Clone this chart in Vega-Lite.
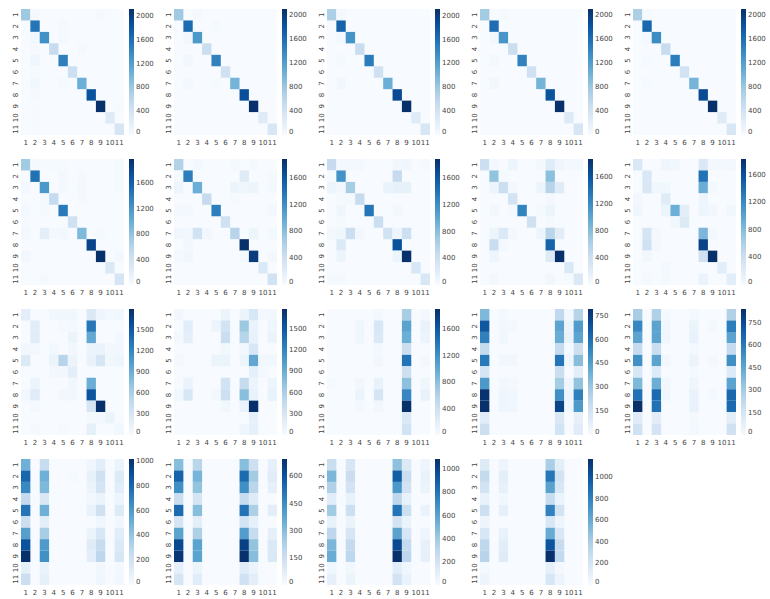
{
"$schema": "https://vega.github.io/schema/vega-lite/v6.json",
"padding": {"left": 11, "top": 9, "right": 0, "bottom": 0},
"background": "white",
"columns": 5,
"spacing": {"row": 24, "column": 50},
"bounds": "flush",
"resolve": {"scale": {"color": "independent"}},
"data": {"values": [
{"p":1,"r":1,"c":1,"v":800},{"p":1,"r":1,"c":2,"v":25},{"p":1,"r":1,"c":9,"v":30},
{"p":1,"r":2,"c":2,"v":1560},{"p":1,"r":2,"c":5,"v":35},
{"p":1,"r":3,"c":2,"v":70},{"p":1,"r":3,"c":3,"v":1330},{"p":1,"r":3,"c":5,"v":30},
{"p":1,"r":4,"c":2,"v":25},{"p":1,"r":4,"c":4,"v":520},{"p":1,"r":4,"c":7,"v":25},
{"p":1,"r":5,"c":2,"v":80},{"p":1,"r":5,"c":5,"v":1480},
{"p":1,"r":6,"c":2,"v":20},{"p":1,"r":6,"c":6,"v":450},
{"p":1,"r":7,"c":2,"v":70},{"p":1,"r":7,"c":5,"v":35},{"p":1,"r":7,"c":7,"v":1060},
{"p":1,"r":8,"c":2,"v":25},{"p":1,"r":8,"c":8,"v":1830},
{"p":1,"r":9,"c":2,"v":20},{"p":1,"r":9,"c":9,"v":2120},{"p":1,"r":9,"c":11,"v":15},
{"p":1,"r":10,"c":2,"v":20},{"p":1,"r":10,"c":10,"v":260},
{"p":1,"r":11,"c":2,"v":20},{"p":1,"r":11,"c":11,"v":360},

{"p":2,"r":1,"c":1,"v":780},{"p":2,"r":1,"c":3,"v":25},
{"p":2,"r":2,"c":2,"v":1620},{"p":2,"r":2,"c":5,"v":30},
{"p":2,"r":3,"c":2,"v":60},{"p":2,"r":3,"c":3,"v":1250},
{"p":2,"r":4,"c":4,"v":480},
{"p":2,"r":5,"c":2,"v":60},{"p":2,"r":5,"c":5,"v":1450},
{"p":2,"r":6,"c":6,"v":430},
{"p":2,"r":7,"c":2,"v":50},{"p":2,"r":7,"c":5,"v":30},{"p":2,"r":7,"c":7,"v":1000},
{"p":2,"r":8,"c":8,"v":1850},
{"p":2,"r":9,"c":9,"v":2100},
{"p":2,"r":10,"c":10,"v":250},
{"p":2,"r":11,"c":11,"v":330},

{"p":3,"r":1,"c":1,"v":700},{"p":3,"r":1,"c":2,"v":30},
{"p":3,"r":2,"c":2,"v":1700},
{"p":3,"r":3,"c":2,"v":50},{"p":3,"r":3,"c":3,"v":1300},
{"p":3,"r":4,"c":4,"v":500},
{"p":3,"r":5,"c":2,"v":40},{"p":3,"r":5,"c":5,"v":1500},
{"p":3,"r":6,"c":6,"v":420},
{"p":3,"r":7,"c":2,"v":60},{"p":3,"r":7,"c":7,"v":1050},
{"p":3,"r":8,"c":8,"v":1900},
{"p":3,"r":9,"c":9,"v":2112},
{"p":3,"r":10,"c":10,"v":250},
{"p":3,"r":11,"c":11,"v":350},

{"p":4,"r":1,"c":1,"v":760},{"p":4,"r":1,"c":3,"v":30},
{"p":4,"r":2,"c":2,"v":1600},
{"p":4,"r":3,"c":2,"v":60},{"p":4,"r":3,"c":3,"v":1280},
{"p":4,"r":4,"c":4,"v":480},
{"p":4,"r":5,"c":2,"v":50},{"p":4,"r":5,"c":5,"v":1450},
{"p":4,"r":6,"c":6,"v":430},
{"p":4,"r":7,"c":2,"v":60},{"p":4,"r":7,"c":7,"v":1000},
{"p":4,"r":8,"c":8,"v":1820},
{"p":4,"r":9,"c":9,"v":2104},
{"p":4,"r":10,"c":10,"v":260},
{"p":4,"r":11,"c":11,"v":350},

{"p":5,"r":1,"c":1,"v":700},{"p":5,"r":1,"c":2,"v":20},
{"p":5,"r":2,"c":2,"v":1650},
{"p":5,"r":3,"c":2,"v":40},{"p":5,"r":3,"c":3,"v":1350},
{"p":5,"r":4,"c":4,"v":500},
{"p":5,"r":5,"c":2,"v":40},{"p":5,"r":5,"c":5,"v":1480},
{"p":5,"r":6,"c":6,"v":400},
{"p":5,"r":7,"c":2,"v":40},{"p":5,"r":7,"c":7,"v":1000},
{"p":5,"r":8,"c":8,"v":1880},
{"p":5,"r":9,"c":9,"v":2096},
{"p":5,"r":10,"c":10,"v":250},
{"p":5,"r":11,"c":11,"v":330},

{"p":6,"r":1,"c":1,"v":730},{"p":6,"r":1,"c":2,"v":25},{"p":6,"r":1,"c":3,"v":20},{"p":6,"r":1,"c":4,"v":20},{"p":6,"r":1,"c":5,"v":20},{"p":6,"r":1,"c":11,"v":30},
{"p":6,"r":2,"c":2,"v":1490},{"p":6,"r":2,"c":5,"v":40},{"p":6,"r":2,"c":7,"v":25},{"p":6,"r":2,"c":11,"v":30},
{"p":6,"r":3,"c":1,"v":40},{"p":6,"r":3,"c":3,"v":1190},{"p":6,"r":3,"c":5,"v":40},{"p":6,"r":3,"c":7,"v":40},{"p":6,"r":3,"c":11,"v":30},
{"p":6,"r":4,"c":3,"v":30},{"p":6,"r":4,"c":4,"v":500},{"p":6,"r":4,"c":7,"v":30},
{"p":6,"r":5,"c":1,"v":40},{"p":6,"r":5,"c":3,"v":30},{"p":6,"r":5,"c":5,"v":1420},
{"p":6,"r":6,"c":1,"v":20},{"p":6,"r":6,"c":6,"v":400},
{"p":6,"r":7,"c":1,"v":50},{"p":6,"r":7,"c":3,"v":200},{"p":6,"r":7,"c":4,"v":40},{"p":6,"r":7,"c":5,"v":60},{"p":6,"r":7,"c":7,"v":890},{"p":6,"r":7,"c":9,"v":30},
{"p":6,"r":8,"c":8,"v":1820},
{"p":6,"r":9,"c":1,"v":60},{"p":6,"r":9,"c":9,"v":1984},{"p":6,"r":9,"c":11,"v":40},
{"p":6,"r":10,"c":10,"v":280},
{"p":6,"r":11,"c":3,"v":30},{"p":6,"r":11,"c":11,"v":340},

{"p":7,"r":1,"c":1,"v":590},{"p":7,"r":1,"c":3,"v":40},{"p":7,"r":1,"c":7,"v":25},{"p":7,"r":1,"c":9,"v":30},
{"p":7,"r":2,"c":1,"v":30},{"p":7,"r":2,"c":2,"v":1320},{"p":7,"r":2,"c":8,"v":230},{"p":7,"r":2,"c":11,"v":30},
{"p":7,"r":3,"c":1,"v":100},{"p":7,"r":3,"c":3,"v":940},{"p":7,"r":3,"c":7,"v":100},{"p":7,"r":3,"c":8,"v":80},{"p":7,"r":3,"c":9,"v":90},{"p":7,"r":3,"c":11,"v":50},
{"p":7,"r":4,"c":4,"v":470},{"p":7,"r":4,"c":7,"v":30},
{"p":7,"r":5,"c":1,"v":50},{"p":7,"r":5,"c":2,"v":40},{"p":7,"r":5,"c":5,"v":1320},{"p":7,"r":5,"c":11,"v":40},
{"p":7,"r":6,"c":6,"v":380},
{"p":7,"r":7,"c":1,"v":70},{"p":7,"r":7,"c":2,"v":60},{"p":7,"r":7,"c":3,"v":360},{"p":7,"r":7,"c":4,"v":60},{"p":7,"r":7,"c":7,"v":560},{"p":7,"r":7,"c":9,"v":100},{"p":7,"r":7,"c":11,"v":40},
{"p":7,"r":8,"c":2,"v":60},{"p":7,"r":8,"c":8,"v":1880},
{"p":7,"r":9,"c":1,"v":50},{"p":7,"r":9,"c":2,"v":70},{"p":7,"r":9,"c":8,"v":40},{"p":7,"r":9,"c":9,"v":1790},{"p":7,"r":9,"c":11,"v":40},
{"p":7,"r":10,"c":10,"v":260},
{"p":7,"r":11,"c":11,"v":360},

{"p":8,"r":1,"c":1,"v":470},{"p":8,"r":1,"c":2,"v":50},{"p":8,"r":1,"c":3,"v":40},{"p":8,"r":1,"c":4,"v":40},{"p":8,"r":1,"c":8,"v":60},{"p":8,"r":1,"c":9,"v":70},{"p":8,"r":1,"c":11,"v":30},
{"p":8,"r":2,"c":1,"v":20},{"p":8,"r":2,"c":2,"v":1170},{"p":8,"r":2,"c":8,"v":470},
{"p":8,"r":3,"c":1,"v":100},{"p":8,"r":3,"c":2,"v":60},{"p":8,"r":3,"c":3,"v":660},{"p":8,"r":3,"c":7,"v":120},{"p":8,"r":3,"c":8,"v":150},{"p":8,"r":3,"c":9,"v":150},
{"p":8,"r":4,"c":2,"v":30},{"p":8,"r":4,"c":3,"v":30},{"p":8,"r":4,"c":4,"v":450},
{"p":8,"r":5,"c":2,"v":80},{"p":8,"r":5,"c":5,"v":1380},{"p":8,"r":5,"c":8,"v":50},
{"p":8,"r":6,"c":2,"v":30},{"p":8,"r":6,"c":6,"v":410},
{"p":8,"r":7,"c":1,"v":40},{"p":8,"r":7,"c":2,"v":80},{"p":8,"r":7,"c":3,"v":420},{"p":8,"r":7,"c":4,"v":60},{"p":8,"r":7,"c":7,"v":360},{"p":8,"r":7,"c":8,"v":90},{"p":8,"r":7,"c":9,"v":400},
{"p":8,"r":8,"c":2,"v":260},{"p":8,"r":8,"c":8,"v":1640},
{"p":8,"r":9,"c":2,"v":100},{"p":8,"r":9,"c":8,"v":100},{"p":8,"r":9,"c":9,"v":1888},
{"p":8,"r":10,"c":10,"v":300},
{"p":8,"r":11,"c":1,"v":30},{"p":8,"r":11,"c":2,"v":30},{"p":8,"r":11,"c":11,"v":300},

{"p":9,"r":1,"c":1,"v":410},{"p":9,"r":1,"c":2,"v":40},{"p":9,"r":1,"c":4,"v":90},{"p":9,"r":1,"c":7,"v":40},{"p":9,"r":1,"c":8,"v":220},{"p":9,"r":1,"c":9,"v":80},{"p":9,"r":1,"c":10,"v":40},{"p":9,"r":1,"c":11,"v":40},
{"p":9,"r":2,"c":2,"v":760},{"p":9,"r":2,"c":3,"v":30},{"p":9,"r":2,"c":8,"v":780},
{"p":9,"r":3,"c":2,"v":100},{"p":9,"r":3,"c":3,"v":410},{"p":9,"r":3,"c":4,"v":40},{"p":9,"r":3,"c":7,"v":90},{"p":9,"r":3,"c":8,"v":560},{"p":9,"r":3,"c":9,"v":220},
{"p":9,"r":4,"c":4,"v":350},{"p":9,"r":4,"c":8,"v":40},
{"p":9,"r":5,"c":2,"v":60},{"p":9,"r":5,"c":4,"v":50},{"p":9,"r":5,"c":5,"v":1270},{"p":9,"r":5,"c":7,"v":30},{"p":9,"r":5,"c":8,"v":100},
{"p":9,"r":6,"c":6,"v":370},{"p":9,"r":6,"c":8,"v":30},
{"p":9,"r":7,"c":2,"v":100},{"p":9,"r":7,"c":3,"v":260},{"p":9,"r":7,"c":4,"v":40},{"p":9,"r":7,"c":7,"v":90},{"p":9,"r":7,"c":8,"v":550},{"p":9,"r":7,"c":9,"v":200},
{"p":9,"r":8,"c":2,"v":440},{"p":9,"r":8,"c":3,"v":40},{"p":9,"r":8,"c":8,"v":1490},
{"p":9,"r":9,"c":2,"v":80},{"p":9,"r":9,"c":8,"v":230},{"p":9,"r":9,"c":9,"v":1864},
{"p":9,"r":10,"c":10,"v":260},
{"p":9,"r":11,"c":2,"v":40},{"p":9,"r":11,"c":8,"v":60},{"p":9,"r":11,"c":10,"v":20},{"p":9,"r":11,"c":11,"v":260},

{"p":10,"r":1,"c":1,"v":270},{"p":10,"r":1,"c":4,"v":80},{"p":10,"r":1,"c":5,"v":60},{"p":10,"r":1,"c":8,"v":270},{"p":10,"r":1,"c":9,"v":40},{"p":10,"r":1,"c":10,"v":40},{"p":10,"r":1,"c":11,"v":40},
{"p":10,"r":2,"c":2,"v":270},{"p":10,"r":2,"c":8,"v":1370},
{"p":10,"r":3,"c":2,"v":280},{"p":10,"r":3,"c":3,"v":60},{"p":10,"r":3,"c":4,"v":60},{"p":10,"r":3,"c":8,"v":920},{"p":10,"r":3,"c":9,"v":40},
{"p":10,"r":4,"c":1,"v":40},{"p":10,"r":4,"c":4,"v":220},{"p":10,"r":4,"c":8,"v":80},
{"p":10,"r":5,"c":1,"v":70},{"p":10,"r":5,"c":4,"v":100},{"p":10,"r":5,"c":5,"v":910},{"p":10,"r":5,"c":6,"v":180},{"p":10,"r":5,"c":8,"v":100},{"p":10,"r":5,"c":9,"v":50},{"p":10,"r":5,"c":11,"v":60},
{"p":10,"r":6,"c":5,"v":60},{"p":10,"r":6,"c":6,"v":250},
{"p":10,"r":7,"c":2,"v":310},{"p":10,"r":7,"c":3,"v":40},{"p":10,"r":7,"c":8,"v":840},{"p":10,"r":7,"c":9,"v":40},
{"p":10,"r":8,"c":2,"v":370},{"p":10,"r":8,"c":3,"v":40},{"p":10,"r":8,"c":8,"v":1700},
{"p":10,"r":9,"c":2,"v":50},{"p":10,"r":9,"c":8,"v":360},{"p":10,"r":9,"c":9,"v":1832},
{"p":10,"r":10,"c":4,"v":40},{"p":10,"r":10,"c":10,"v":200},
{"p":10,"r":11,"c":2,"v":30},{"p":10,"r":11,"c":4,"v":30},{"p":10,"r":11,"c":8,"v":120},{"p":10,"r":11,"c":11,"v":200},

{"p":11,"r":1,"c":1,"v":180},{"p":11,"r":1,"c":4,"v":60},{"p":11,"r":1,"c":5,"v":60},{"p":11,"r":1,"c":6,"v":60},{"p":11,"r":1,"c":8,"v":250},{"p":11,"r":1,"c":9,"v":80},{"p":11,"r":1,"c":10,"v":40},{"p":11,"r":1,"c":11,"v":60},
{"p":11,"r":2,"c":2,"v":190},{"p":11,"r":2,"c":5,"v":30},{"p":11,"r":2,"c":6,"v":40},{"p":11,"r":2,"c":8,"v":1310},
{"p":11,"r":3,"c":2,"v":210},{"p":11,"r":3,"c":6,"v":100},{"p":11,"r":3,"c":8,"v":950},{"p":11,"r":3,"c":11,"v":40},
{"p":11,"r":4,"c":1,"v":50},{"p":11,"r":4,"c":2,"v":40},{"p":11,"r":4,"c":4,"v":60},{"p":11,"r":4,"c":6,"v":50},{"p":11,"r":4,"c":8,"v":100},{"p":11,"r":4,"c":9,"v":120},{"p":11,"r":4,"c":10,"v":50},{"p":11,"r":4,"c":11,"v":50},
{"p":11,"r":5,"c":1,"v":240},{"p":11,"r":5,"c":4,"v":110},{"p":11,"r":5,"c":5,"v":540},{"p":11,"r":5,"c":6,"v":100},{"p":11,"r":5,"c":8,"v":130},{"p":11,"r":5,"c":9,"v":300},{"p":11,"r":5,"c":10,"v":60},{"p":11,"r":5,"c":11,"v":80},
{"p":11,"r":6,"c":4,"v":50},{"p":11,"r":6,"c":5,"v":50},{"p":11,"r":6,"c":6,"v":180},
{"p":11,"r":7,"c":2,"v":110},{"p":11,"r":7,"c":6,"v":60},{"p":11,"r":7,"c":8,"v":900},
{"p":11,"r":8,"c":1,"v":50},{"p":11,"r":8,"c":2,"v":220},{"p":11,"r":8,"c":5,"v":50},{"p":11,"r":8,"c":6,"v":60},{"p":11,"r":8,"c":8,"v":1540},
{"p":11,"r":9,"c":2,"v":40},{"p":11,"r":9,"c":8,"v":310},{"p":11,"r":9,"c":9,"v":1800},
{"p":11,"r":10,"c":8,"v":30},{"p":11,"r":10,"c":9,"v":40},{"p":11,"r":10,"c":10,"v":110},
{"p":11,"r":11,"c":2,"v":30},{"p":11,"r":11,"c":5,"v":30},{"p":11,"r":11,"c":8,"v":160},{"p":11,"r":11,"c":11,"v":60},

{"p":12,"r":1,"c":1,"v":50},{"p":12,"r":1,"c":6,"v":100},{"p":12,"r":1,"c":8,"v":100},{"p":12,"r":1,"c":9,"v":280},{"p":12,"r":1,"c":10,"v":40},{"p":12,"r":1,"c":11,"v":50},
{"p":12,"r":2,"c":2,"v":200},{"p":12,"r":2,"c":5,"v":90},{"p":12,"r":2,"c":6,"v":330},{"p":12,"r":2,"c":8,"v":680},{"p":12,"r":2,"c":9,"v":120},{"p":12,"r":2,"c":11,"v":80},
{"p":12,"r":3,"c":1,"v":40},{"p":12,"r":3,"c":2,"v":170},{"p":12,"r":3,"c":6,"v":400},{"p":12,"r":3,"c":8,"v":540},{"p":12,"r":3,"c":9,"v":130},{"p":12,"r":3,"c":11,"v":110},
{"p":12,"r":4,"c":6,"v":60},{"p":12,"r":4,"c":8,"v":60},{"p":12,"r":4,"c":9,"v":280},
{"p":12,"r":5,"c":1,"v":40},{"p":12,"r":5,"c":5,"v":110},{"p":12,"r":5,"c":6,"v":110},{"p":12,"r":5,"c":8,"v":90},{"p":12,"r":5,"c":9,"v":950},{"p":12,"r":5,"c":10,"v":50},{"p":12,"r":5,"c":11,"v":60},
{"p":12,"r":6,"c":9,"v":160},{"p":12,"r":6,"c":10,"v":40},
{"p":12,"r":7,"c":2,"v":120},{"p":12,"r":7,"c":6,"v":330},{"p":12,"r":7,"c":8,"v":440},{"p":12,"r":7,"c":9,"v":90},{"p":12,"r":7,"c":11,"v":90},
{"p":12,"r":8,"c":1,"v":60},{"p":12,"r":8,"c":2,"v":280},{"p":12,"r":8,"c":5,"v":60},{"p":12,"r":8,"c":6,"v":380},{"p":12,"r":8,"c":8,"v":760},{"p":12,"r":8,"c":9,"v":130},{"p":12,"r":8,"c":11,"v":130},
{"p":12,"r":9,"c":6,"v":60},{"p":12,"r":9,"c":8,"v":120},{"p":12,"r":9,"c":9,"v":1784},
{"p":12,"r":10,"c":9,"v":150},
{"p":12,"r":11,"c":8,"v":80},{"p":12,"r":11,"c":9,"v":150},

{"p":13,"r":1,"c":6,"v":50},{"p":13,"r":1,"c":9,"v":660},{"p":13,"r":1,"c":11,"v":40},
{"p":13,"r":2,"c":4,"v":80},{"p":13,"r":2,"c":6,"v":300},{"p":13,"r":2,"c":9,"v":1050},{"p":13,"r":2,"c":11,"v":130},
{"p":13,"r":3,"c":4,"v":80},{"p":13,"r":3,"c":6,"v":270},{"p":13,"r":3,"c":9,"v":950},{"p":13,"r":3,"c":11,"v":110},
{"p":13,"r":4,"c":6,"v":50},{"p":13,"r":4,"c":9,"v":420},
{"p":13,"r":5,"c":6,"v":60},{"p":13,"r":5,"c":9,"v":1410},{"p":13,"r":5,"c":11,"v":40},
{"p":13,"r":6,"c":9,"v":410},
{"p":13,"r":7,"c":1,"v":30},{"p":13,"r":7,"c":4,"v":60},{"p":13,"r":7,"c":6,"v":130},{"p":13,"r":7,"c":9,"v":790},{"p":13,"r":7,"c":11,"v":80},
{"p":13,"r":8,"c":4,"v":110},{"p":13,"r":8,"c":6,"v":330},{"p":13,"r":8,"c":9,"v":1270},{"p":13,"r":8,"c":11,"v":130},
{"p":13,"r":9,"c":4,"v":40},{"p":13,"r":9,"c":6,"v":60},{"p":13,"r":9,"c":9,"v":1904},
{"p":13,"r":10,"c":9,"v":280},
{"p":13,"r":11,"c":9,"v":370},

{"p":14,"r":1,"c":1,"v":360},{"p":14,"r":1,"c":3,"v":20},{"p":14,"r":1,"c":9,"v":210},{"p":14,"r":1,"c":10,"v":20},{"p":14,"r":1,"c":11,"v":240},
{"p":14,"r":2,"c":1,"v":670},{"p":14,"r":2,"c":3,"v":25},{"p":14,"r":2,"c":4,"v":20},{"p":14,"r":2,"c":9,"v":430},{"p":14,"r":2,"c":10,"v":40},{"p":14,"r":2,"c":11,"v":460},
{"p":14,"r":3,"c":1,"v":550},{"p":14,"r":3,"c":3,"v":30},{"p":14,"r":3,"c":9,"v":400},{"p":14,"r":3,"c":10,"v":50},{"p":14,"r":3,"c":11,"v":430},
{"p":14,"r":4,"c":1,"v":200},{"p":14,"r":4,"c":9,"v":200},{"p":14,"r":4,"c":10,"v":15},{"p":14,"r":4,"c":11,"v":170},
{"p":14,"r":5,"c":1,"v":570},{"p":14,"r":5,"c":3,"v":25},{"p":14,"r":5,"c":4,"v":25},{"p":14,"r":5,"c":9,"v":580},{"p":14,"r":5,"c":10,"v":30},{"p":14,"r":5,"c":11,"v":340},
{"p":14,"r":6,"c":1,"v":135},{"p":14,"r":6,"c":9,"v":180},{"p":14,"r":6,"c":11,"v":80},
{"p":14,"r":7,"c":1,"v":470},{"p":14,"r":7,"c":3,"v":25},{"p":14,"r":7,"c":4,"v":20},{"p":14,"r":7,"c":9,"v":280},{"p":14,"r":7,"c":10,"v":30},{"p":14,"r":7,"c":11,"v":320},
{"p":14,"r":8,"c":1,"v":785},{"p":14,"r":8,"c":3,"v":35},{"p":14,"r":8,"c":4,"v":30},{"p":14,"r":8,"c":9,"v":500},{"p":14,"r":8,"c":10,"v":40},{"p":14,"r":8,"c":11,"v":550},
{"p":14,"r":9,"c":1,"v":792},{"p":14,"r":9,"c":3,"v":35},{"p":14,"r":9,"c":4,"v":30},{"p":14,"r":9,"c":9,"v":730},{"p":14,"r":9,"c":10,"v":30},{"p":14,"r":9,"c":11,"v":470},
{"p":14,"r":10,"c":1,"v":90},{"p":14,"r":10,"c":9,"v":120},{"p":14,"r":10,"c":11,"v":70},
{"p":14,"r":11,"c":1,"v":170},{"p":14,"r":11,"c":9,"v":150},{"p":14,"r":11,"c":11,"v":90},

{"p":15,"r":1,"c":1,"v":290},{"p":15,"r":1,"c":3,"v":270},{"p":15,"r":1,"c":4,"v":15},{"p":15,"r":1,"c":7,"v":20},{"p":15,"r":1,"c":11,"v":270},
{"p":15,"r":2,"c":1,"v":560},{"p":15,"r":2,"c":3,"v":460},{"p":15,"r":2,"c":4,"v":30},{"p":15,"r":2,"c":7,"v":50},{"p":15,"r":2,"c":9,"v":20},{"p":15,"r":2,"c":11,"v":590},
{"p":15,"r":3,"c":1,"v":460},{"p":15,"r":3,"c":3,"v":460},{"p":15,"r":3,"c":4,"v":30},{"p":15,"r":3,"c":7,"v":60},{"p":15,"r":3,"c":11,"v":460},
{"p":15,"r":4,"c":1,"v":210},{"p":15,"r":4,"c":3,"v":190},{"p":15,"r":4,"c":7,"v":20},{"p":15,"r":4,"c":11,"v":210},
{"p":15,"r":5,"c":1,"v":530},{"p":15,"r":5,"c":3,"v":460},{"p":15,"r":5,"c":4,"v":25},{"p":15,"r":5,"c":7,"v":50},{"p":15,"r":5,"c":9,"v":20},{"p":15,"r":5,"c":11,"v":530},
{"p":15,"r":6,"c":1,"v":130},{"p":15,"r":6,"c":3,"v":110},{"p":15,"r":6,"c":7,"v":15},{"p":15,"r":6,"c":11,"v":110},
{"p":15,"r":7,"c":1,"v":380},{"p":15,"r":7,"c":3,"v":420},{"p":15,"r":7,"c":4,"v":25},{"p":15,"r":7,"c":7,"v":40},{"p":15,"r":7,"c":11,"v":460},
{"p":15,"r":8,"c":1,"v":630},{"p":15,"r":8,"c":3,"v":650},{"p":15,"r":8,"c":4,"v":30},{"p":15,"r":8,"c":7,"v":60},{"p":15,"r":8,"c":9,"v":20},{"p":15,"r":8,"c":11,"v":660},
{"p":15,"r":9,"c":1,"v":840},{"p":15,"r":9,"c":3,"v":630},{"p":15,"r":9,"c":7,"v":60},{"p":15,"r":9,"c":11,"v":650},
{"p":15,"r":10,"c":1,"v":100},{"p":15,"r":10,"c":3,"v":90},{"p":15,"r":10,"c":7,"v":15},{"p":15,"r":10,"c":11,"v":90},
{"p":15,"r":11,"c":1,"v":165},{"p":15,"r":11,"c":3,"v":150},{"p":15,"r":11,"c":7,"v":20},{"p":15,"r":11,"c":11,"v":165},

{"p":16,"r":1,"c":1,"v":500},{"p":16,"r":1,"c":3,"v":250},{"p":16,"r":1,"c":8,"v":40},{"p":16,"r":1,"c":9,"v":110},{"p":16,"r":1,"c":11,"v":60},
{"p":16,"r":2,"c":1,"v":800},{"p":16,"r":2,"c":3,"v":500},{"p":16,"r":2,"c":6,"v":15},{"p":16,"r":2,"c":8,"v":80},{"p":16,"r":2,"c":9,"v":200},{"p":16,"r":2,"c":11,"v":130},
{"p":16,"r":3,"c":1,"v":670},{"p":16,"r":3,"c":3,"v":460},{"p":16,"r":3,"c":8,"v":60},{"p":16,"r":3,"c":9,"v":180},{"p":16,"r":3,"c":11,"v":110},
{"p":16,"r":4,"c":1,"v":260},{"p":16,"r":4,"c":3,"v":150},{"p":16,"r":4,"c":8,"v":30},{"p":16,"r":4,"c":9,"v":60},{"p":16,"r":4,"c":11,"v":50},
{"p":16,"r":5,"c":1,"v":750},{"p":16,"r":5,"c":3,"v":500},{"p":16,"r":5,"c":8,"v":70},{"p":16,"r":5,"c":9,"v":200},{"p":16,"r":5,"c":11,"v":130},
{"p":16,"r":6,"c":1,"v":220},{"p":16,"r":6,"c":3,"v":100},{"p":16,"r":6,"c":9,"v":40},{"p":16,"r":6,"c":11,"v":30},
{"p":16,"r":7,"c":1,"v":570},{"p":16,"r":7,"c":3,"v":350},{"p":16,"r":7,"c":8,"v":60},{"p":16,"r":7,"c":9,"v":160},{"p":16,"r":7,"c":11,"v":110},
{"p":16,"r":8,"c":1,"v":880},{"p":16,"r":8,"c":3,"v":600},{"p":16,"r":8,"c":8,"v":120},{"p":16,"r":8,"c":9,"v":250},{"p":16,"r":8,"c":11,"v":140},
{"p":16,"r":9,"c":1,"v":1016},{"p":16,"r":9,"c":3,"v":640},{"p":16,"r":9,"c":8,"v":100},{"p":16,"r":9,"c":9,"v":280},{"p":16,"r":9,"c":11,"v":170},
{"p":16,"r":10,"c":1,"v":90},{"p":16,"r":10,"c":3,"v":70},{"p":16,"r":10,"c":9,"v":30},{"p":16,"r":10,"c":11,"v":20},
{"p":16,"r":11,"c":1,"v":220},{"p":16,"r":11,"c":3,"v":90},{"p":16,"r":11,"c":9,"v":40},{"p":16,"r":11,"c":11,"v":30},

{"p":17,"r":1,"c":1,"v":300},{"p":17,"r":1,"c":3,"v":200},{"p":17,"r":1,"c":8,"v":300},{"p":17,"r":1,"c":9,"v":150},{"p":17,"r":1,"c":11,"v":60},
{"p":17,"r":2,"c":1,"v":560},{"p":17,"r":2,"c":3,"v":330},{"p":17,"r":2,"c":8,"v":540},{"p":17,"r":2,"c":9,"v":250},{"p":17,"r":2,"c":11,"v":80},
{"p":17,"r":3,"c":1,"v":440},{"p":17,"r":3,"c":3,"v":280},{"p":17,"r":3,"c":8,"v":440},{"p":17,"r":3,"c":9,"v":200},{"p":17,"r":3,"c":11,"v":60},
{"p":17,"r":4,"c":1,"v":160},{"p":17,"r":4,"c":3,"v":120},{"p":17,"r":4,"c":8,"v":170},{"p":17,"r":4,"c":9,"v":90},
{"p":17,"r":5,"c":1,"v":540},{"p":17,"r":5,"c":3,"v":300},{"p":17,"r":5,"c":8,"v":520},{"p":17,"r":5,"c":9,"v":230},{"p":17,"r":5,"c":11,"v":70},
{"p":17,"r":6,"c":1,"v":120},{"p":17,"r":6,"c":3,"v":70},{"p":17,"r":6,"c":8,"v":130},{"p":17,"r":6,"c":9,"v":60},
{"p":17,"r":7,"c":1,"v":380},{"p":17,"r":7,"c":3,"v":230},{"p":17,"r":7,"c":8,"v":400},{"p":17,"r":7,"c":9,"v":170},{"p":17,"r":7,"c":11,"v":60},
{"p":17,"r":8,"c":1,"v":630},{"p":17,"r":8,"c":3,"v":380},{"p":17,"r":8,"c":8,"v":650},{"p":17,"r":8,"c":9,"v":280},{"p":17,"r":8,"c":11,"v":100},
{"p":17,"r":9,"c":1,"v":680},{"p":17,"r":9,"c":3,"v":380},{"p":17,"r":9,"c":8,"v":696},{"p":17,"r":9,"c":9,"v":300},{"p":17,"r":9,"c":11,"v":100},
{"p":17,"r":10,"c":1,"v":60},{"p":17,"r":10,"c":3,"v":40},{"p":17,"r":10,"c":8,"v":80},{"p":17,"r":10,"c":9,"v":40},
{"p":17,"r":11,"c":1,"v":120},{"p":17,"r":11,"c":3,"v":80},{"p":17,"r":11,"c":8,"v":140},{"p":17,"r":11,"c":9,"v":70},

{"p":18,"r":1,"c":1,"v":250},{"p":18,"r":1,"c":3,"v":180},{"p":18,"r":1,"c":8,"v":450},{"p":18,"r":1,"c":9,"v":150},{"p":18,"r":1,"c":11,"v":50},
{"p":18,"r":2,"c":1,"v":500},{"p":18,"r":2,"c":3,"v":250},{"p":18,"r":2,"c":8,"v":900},{"p":18,"r":2,"c":9,"v":250},{"p":18,"r":2,"c":11,"v":80},
{"p":18,"r":3,"c":1,"v":350},{"p":18,"r":3,"c":3,"v":200},{"p":18,"r":3,"c":8,"v":650},{"p":18,"r":3,"c":9,"v":200},{"p":18,"r":3,"c":11,"v":60},
{"p":18,"r":4,"c":1,"v":120},{"p":18,"r":4,"c":3,"v":80},{"p":18,"r":4,"c":8,"v":300},{"p":18,"r":4,"c":9,"v":80},
{"p":18,"r":5,"c":1,"v":400},{"p":18,"r":5,"c":3,"v":230},{"p":18,"r":5,"c":8,"v":800},{"p":18,"r":5,"c":9,"v":230},{"p":18,"r":5,"c":11,"v":70},
{"p":18,"r":6,"c":1,"v":80},{"p":18,"r":6,"c":3,"v":60},{"p":18,"r":6,"c":8,"v":200},{"p":18,"r":6,"c":9,"v":60},
{"p":18,"r":7,"c":1,"v":300},{"p":18,"r":7,"c":3,"v":180},{"p":18,"r":7,"c":8,"v":600},{"p":18,"r":7,"c":9,"v":180},{"p":18,"r":7,"c":11,"v":50},
{"p":18,"r":8,"c":1,"v":500},{"p":18,"r":8,"c":3,"v":280},{"p":18,"r":8,"c":8,"v":980},{"p":18,"r":8,"c":9,"v":280},{"p":18,"r":8,"c":11,"v":90},
{"p":18,"r":9,"c":1,"v":550},{"p":18,"r":9,"c":3,"v":300},{"p":18,"r":9,"c":8,"v":1088},{"p":18,"r":9,"c":9,"v":300},{"p":18,"r":9,"c":11,"v":90},
{"p":18,"r":10,"c":1,"v":40},{"p":18,"r":10,"c":3,"v":30},{"p":18,"r":10,"c":8,"v":120},{"p":18,"r":10,"c":9,"v":40},
{"p":18,"r":11,"c":1,"v":90},{"p":18,"r":11,"c":3,"v":60},{"p":18,"r":11,"c":8,"v":200},{"p":18,"r":11,"c":9,"v":70},

{"p":19,"r":1,"c":1,"v":150},{"p":19,"r":1,"c":3,"v":60},{"p":19,"r":1,"c":8,"v":400},{"p":19,"r":1,"c":9,"v":120},
{"p":19,"r":2,"c":1,"v":300},{"p":19,"r":2,"c":3,"v":120},{"p":19,"r":2,"c":8,"v":850},{"p":19,"r":2,"c":9,"v":220},
{"p":19,"r":3,"c":1,"v":220},{"p":19,"r":3,"c":3,"v":90},{"p":19,"r":3,"c":8,"v":650},{"p":19,"r":3,"c":9,"v":180},
{"p":19,"r":4,"c":1,"v":80},{"p":19,"r":4,"c":3,"v":40},{"p":19,"r":4,"c":8,"v":280},{"p":19,"r":4,"c":9,"v":70},
{"p":19,"r":5,"c":1,"v":250},{"p":19,"r":5,"c":3,"v":100},{"p":19,"r":5,"c":8,"v":800},{"p":19,"r":5,"c":9,"v":220},
{"p":19,"r":6,"c":1,"v":60},{"p":19,"r":6,"c":8,"v":180},{"p":19,"r":6,"c":9,"v":50},
{"p":19,"r":7,"c":1,"v":180},{"p":19,"r":7,"c":3,"v":80},{"p":19,"r":7,"c":8,"v":600},{"p":19,"r":7,"c":9,"v":170},
{"p":19,"r":8,"c":1,"v":320},{"p":19,"r":8,"c":3,"v":130},{"p":19,"r":8,"c":8,"v":1000},{"p":19,"r":8,"c":9,"v":280},
{"p":19,"r":9,"c":1,"v":350},{"p":19,"r":9,"c":3,"v":140},{"p":19,"r":9,"c":8,"v":1168},{"p":19,"r":9,"c":9,"v":300},
{"p":19,"r":10,"c":1,"v":30},{"p":19,"r":10,"c":8,"v":100},{"p":19,"r":10,"c":9,"v":30},
{"p":19,"r":11,"c":1,"v":60},{"p":19,"r":11,"c":8,"v":190},{"p":19,"r":11,"c":9,"v":60}
]},
"concat": [
{"transform":[{"filter":"datum.p==1"}],"mark":"rect","encoding":{"x":{"field":"c","type":"ordinal","title":null,"scale":{"domain":[1,2,3,4,5,6,7,8,9,10,11]}},"y":{"field":"r","type":"ordinal","title":null,"scale":{"domain":[1,2,3,4,5,6,7,8,9,10,11]}},"color":{"field":"v","type":"quantitative","title":null,"scale":{"nice":false,"domain":[0,265,530,795,1060,1325,1590,1855,2120],"range":["#f7fbff","#deebf7","#c6dbef","#9ecae1","#6baed6","#4292c6","#2171b5","#08519c","#08306b"]},"legend":{"values":[0,400,800,1200,1600,2000],"format":"d"}}}},
{"transform":[{"filter":"datum.p==2"}],"mark":"rect","encoding":{"x":{"field":"c","type":"ordinal","title":null,"scale":{"domain":[1,2,3,4,5,6,7,8,9,10,11]}},"y":{"field":"r","type":"ordinal","title":null,"scale":{"domain":[1,2,3,4,5,6,7,8,9,10,11]}},"color":{"field":"v","type":"quantitative","title":null,"scale":{"nice":false,"domain":[0,262.5,525,787.5,1050,1312.5,1575,1837.5,2100],"range":["#f7fbff","#deebf7","#c6dbef","#9ecae1","#6baed6","#4292c6","#2171b5","#08519c","#08306b"]},"legend":{"values":[0,400,800,1200,1600,2000],"format":"d"}}}},
{"transform":[{"filter":"datum.p==3"}],"mark":"rect","encoding":{"x":{"field":"c","type":"ordinal","title":null,"scale":{"domain":[1,2,3,4,5,6,7,8,9,10,11]}},"y":{"field":"r","type":"ordinal","title":null,"scale":{"domain":[1,2,3,4,5,6,7,8,9,10,11]}},"color":{"field":"v","type":"quantitative","title":null,"scale":{"nice":false,"domain":[0,264,528,792,1056,1320,1584,1848,2112],"range":["#f7fbff","#deebf7","#c6dbef","#9ecae1","#6baed6","#4292c6","#2171b5","#08519c","#08306b"]},"legend":{"values":[0,400,800,1200,1600,2000],"format":"d"}}}},
{"transform":[{"filter":"datum.p==4"}],"mark":"rect","encoding":{"x":{"field":"c","type":"ordinal","title":null,"scale":{"domain":[1,2,3,4,5,6,7,8,9,10,11]}},"y":{"field":"r","type":"ordinal","title":null,"scale":{"domain":[1,2,3,4,5,6,7,8,9,10,11]}},"color":{"field":"v","type":"quantitative","title":null,"scale":{"nice":false,"domain":[0,263,526,789,1052,1315,1578,1841,2104],"range":["#f7fbff","#deebf7","#c6dbef","#9ecae1","#6baed6","#4292c6","#2171b5","#08519c","#08306b"]},"legend":{"values":[0,400,800,1200,1600,2000],"format":"d"}}}},
{"transform":[{"filter":"datum.p==5"}],"mark":"rect","encoding":{"x":{"field":"c","type":"ordinal","title":null,"scale":{"domain":[1,2,3,4,5,6,7,8,9,10,11]}},"y":{"field":"r","type":"ordinal","title":null,"scale":{"domain":[1,2,3,4,5,6,7,8,9,10,11]}},"color":{"field":"v","type":"quantitative","title":null,"scale":{"nice":false,"domain":[0,262,524,786,1048,1310,1572,1834,2096],"range":["#f7fbff","#deebf7","#c6dbef","#9ecae1","#6baed6","#4292c6","#2171b5","#08519c","#08306b"]},"legend":{"values":[0,400,800,1200,1600,2000],"format":"d"}}}},
{"transform":[{"filter":"datum.p==6"}],"mark":"rect","encoding":{"x":{"field":"c","type":"ordinal","title":null,"scale":{"domain":[1,2,3,4,5,6,7,8,9,10,11]}},"y":{"field":"r","type":"ordinal","title":null,"scale":{"domain":[1,2,3,4,5,6,7,8,9,10,11]}},"color":{"field":"v","type":"quantitative","title":null,"scale":{"nice":false,"domain":[0,248,496,744,992,1240,1488,1736,1984],"range":["#f7fbff","#deebf7","#c6dbef","#9ecae1","#6baed6","#4292c6","#2171b5","#08519c","#08306b"]},"legend":{"values":[0,400,800,1200,1600],"format":"d"}}}},
{"transform":[{"filter":"datum.p==7"}],"mark":"rect","encoding":{"x":{"field":"c","type":"ordinal","title":null,"scale":{"domain":[1,2,3,4,5,6,7,8,9,10,11]}},"y":{"field":"r","type":"ordinal","title":null,"scale":{"domain":[1,2,3,4,5,6,7,8,9,10,11]}},"color":{"field":"v","type":"quantitative","title":null,"scale":{"nice":false,"domain":[0,235,470,705,940,1175,1410,1645,1880],"range":["#f7fbff","#deebf7","#c6dbef","#9ecae1","#6baed6","#4292c6","#2171b5","#08519c","#08306b"]},"legend":{"values":[0,400,800,1200,1600],"format":"d"}}}},
{"transform":[{"filter":"datum.p==8"}],"mark":"rect","encoding":{"x":{"field":"c","type":"ordinal","title":null,"scale":{"domain":[1,2,3,4,5,6,7,8,9,10,11]}},"y":{"field":"r","type":"ordinal","title":null,"scale":{"domain":[1,2,3,4,5,6,7,8,9,10,11]}},"color":{"field":"v","type":"quantitative","title":null,"scale":{"nice":false,"domain":[0,236,472,708,944,1180,1416,1652,1888],"range":["#f7fbff","#deebf7","#c6dbef","#9ecae1","#6baed6","#4292c6","#2171b5","#08519c","#08306b"]},"legend":{"values":[0,400,800,1200,1600],"format":"d"}}}},
{"transform":[{"filter":"datum.p==9"}],"mark":"rect","encoding":{"x":{"field":"c","type":"ordinal","title":null,"scale":{"domain":[1,2,3,4,5,6,7,8,9,10,11]}},"y":{"field":"r","type":"ordinal","title":null,"scale":{"domain":[1,2,3,4,5,6,7,8,9,10,11]}},"color":{"field":"v","type":"quantitative","title":null,"scale":{"nice":false,"domain":[0,233,466,699,932,1165,1398,1631,1864],"range":["#f7fbff","#deebf7","#c6dbef","#9ecae1","#6baed6","#4292c6","#2171b5","#08519c","#08306b"]},"legend":{"values":[0,400,800,1200,1600],"format":"d"}}}},
{"transform":[{"filter":"datum.p==10"}],"mark":"rect","encoding":{"x":{"field":"c","type":"ordinal","title":null,"scale":{"domain":[1,2,3,4,5,6,7,8,9,10,11]}},"y":{"field":"r","type":"ordinal","title":null,"scale":{"domain":[1,2,3,4,5,6,7,8,9,10,11]}},"color":{"field":"v","type":"quantitative","title":null,"scale":{"nice":false,"domain":[0,229,458,687,916,1145,1374,1603,1832],"range":["#f7fbff","#deebf7","#c6dbef","#9ecae1","#6baed6","#4292c6","#2171b5","#08519c","#08306b"]},"legend":{"values":[0,400,800,1200,1600],"format":"d"}}}},
{"transform":[{"filter":"datum.p==11"}],"mark":"rect","encoding":{"x":{"field":"c","type":"ordinal","title":null,"scale":{"domain":[1,2,3,4,5,6,7,8,9,10,11]}},"y":{"field":"r","type":"ordinal","title":null,"scale":{"domain":[1,2,3,4,5,6,7,8,9,10,11]}},"color":{"field":"v","type":"quantitative","title":null,"scale":{"nice":false,"domain":[0,225,450,675,900,1125,1350,1575,1800],"range":["#f7fbff","#deebf7","#c6dbef","#9ecae1","#6baed6","#4292c6","#2171b5","#08519c","#08306b"]},"legend":{"values":[0,300,600,900,1200,1500],"format":"d"}}}},
{"transform":[{"filter":"datum.p==12"}],"mark":"rect","encoding":{"x":{"field":"c","type":"ordinal","title":null,"scale":{"domain":[1,2,3,4,5,6,7,8,9,10,11]}},"y":{"field":"r","type":"ordinal","title":null,"scale":{"domain":[1,2,3,4,5,6,7,8,9,10,11]}},"color":{"field":"v","type":"quantitative","title":null,"scale":{"nice":false,"domain":[0,223,446,669,892,1115,1338,1561,1784],"range":["#f7fbff","#deebf7","#c6dbef","#9ecae1","#6baed6","#4292c6","#2171b5","#08519c","#08306b"]},"legend":{"values":[0,300,600,900,1200,1500],"format":"d"}}}},
{"transform":[{"filter":"datum.p==13"}],"mark":"rect","encoding":{"x":{"field":"c","type":"ordinal","title":null,"scale":{"domain":[1,2,3,4,5,6,7,8,9,10,11]}},"y":{"field":"r","type":"ordinal","title":null,"scale":{"domain":[1,2,3,4,5,6,7,8,9,10,11]}},"color":{"field":"v","type":"quantitative","title":null,"scale":{"nice":false,"domain":[0,238,476,714,952,1190,1428,1666,1904],"range":["#f7fbff","#deebf7","#c6dbef","#9ecae1","#6baed6","#4292c6","#2171b5","#08519c","#08306b"]},"legend":{"values":[0,400,800,1200,1600],"format":"d"}}}},
{"transform":[{"filter":"datum.p==14"}],"mark":"rect","encoding":{"x":{"field":"c","type":"ordinal","title":null,"scale":{"domain":[1,2,3,4,5,6,7,8,9,10,11]}},"y":{"field":"r","type":"ordinal","title":null,"scale":{"domain":[1,2,3,4,5,6,7,8,9,10,11]}},"color":{"field":"v","type":"quantitative","title":null,"scale":{"nice":false,"domain":[0,99,198,297,396,495,594,693,792],"range":["#f7fbff","#deebf7","#c6dbef","#9ecae1","#6baed6","#4292c6","#2171b5","#08519c","#08306b"]},"legend":{"values":[0,150,300,450,600,750],"format":"d"}}}},
{"transform":[{"filter":"datum.p==15"}],"mark":"rect","encoding":{"x":{"field":"c","type":"ordinal","title":null,"scale":{"domain":[1,2,3,4,5,6,7,8,9,10,11]}},"y":{"field":"r","type":"ordinal","title":null,"scale":{"domain":[1,2,3,4,5,6,7,8,9,10,11]}},"color":{"field":"v","type":"quantitative","title":null,"scale":{"nice":false,"domain":[0,105,210,315,420,525,630,735,840],"range":["#f7fbff","#deebf7","#c6dbef","#9ecae1","#6baed6","#4292c6","#2171b5","#08519c","#08306b"]},"legend":{"values":[0,150,300,450,600,750],"format":"d"}}}},
{"transform":[{"filter":"datum.p==16"}],"mark":"rect","encoding":{"x":{"field":"c","type":"ordinal","title":null,"scale":{"domain":[1,2,3,4,5,6,7,8,9,10,11]}},"y":{"field":"r","type":"ordinal","title":null,"scale":{"domain":[1,2,3,4,5,6,7,8,9,10,11]}},"color":{"field":"v","type":"quantitative","title":null,"scale":{"nice":false,"domain":[0,127,254,381,508,635,762,889,1016],"range":["#f7fbff","#deebf7","#c6dbef","#9ecae1","#6baed6","#4292c6","#2171b5","#08519c","#08306b"]},"legend":{"values":[0,200,400,600,800,1000],"format":"d"}}}},
{"transform":[{"filter":"datum.p==17"}],"mark":"rect","encoding":{"x":{"field":"c","type":"ordinal","title":null,"scale":{"domain":[1,2,3,4,5,6,7,8,9,10,11]}},"y":{"field":"r","type":"ordinal","title":null,"scale":{"domain":[1,2,3,4,5,6,7,8,9,10,11]}},"color":{"field":"v","type":"quantitative","title":null,"scale":{"nice":false,"domain":[0,87,174,261,348,435,522,609,696],"range":["#f7fbff","#deebf7","#c6dbef","#9ecae1","#6baed6","#4292c6","#2171b5","#08519c","#08306b"]},"legend":{"values":[0,150,300,450,600],"format":"d"}}}},
{"transform":[{"filter":"datum.p==18"}],"mark":"rect","encoding":{"x":{"field":"c","type":"ordinal","title":null,"scale":{"domain":[1,2,3,4,5,6,7,8,9,10,11]}},"y":{"field":"r","type":"ordinal","title":null,"scale":{"domain":[1,2,3,4,5,6,7,8,9,10,11]}},"color":{"field":"v","type":"quantitative","title":null,"scale":{"nice":false,"domain":[0,136,272,408,544,680,816,952,1088],"range":["#f7fbff","#deebf7","#c6dbef","#9ecae1","#6baed6","#4292c6","#2171b5","#08519c","#08306b"]},"legend":{"values":[0,200,400,600,800,1000],"format":"d"}}}},
{"transform":[{"filter":"datum.p==19"}],"mark":"rect","encoding":{"x":{"field":"c","type":"ordinal","title":null,"scale":{"domain":[1,2,3,4,5,6,7,8,9,10,11]}},"y":{"field":"r","type":"ordinal","title":null,"scale":{"domain":[1,2,3,4,5,6,7,8,9,10,11]}},"color":{"field":"v","type":"quantitative","title":null,"scale":{"nice":false,"domain":[0,146,292,438,584,730,876,1022,1168],"range":["#f7fbff","#deebf7","#c6dbef","#9ecae1","#6baed6","#4292c6","#2171b5","#08519c","#08306b"]},"legend":{"values":[0,200,400,600,800,1000],"format":"d"}}}}
],
"config": {
"font": "DejaVu Sans",
"view": {"fill": "#f7fbff", "stroke": null, "discreteWidth": 103, "discreteHeight": 126},
"axis": {"domain": false, "ticks": false, "grid": false, "labelFontSize": 7, "labelColor": "#444444", "labelFont": "DejaVu Sans", "labelOverlap": false},
"axisX": {"labelAngle": 0, "labelPadding": 3},
"axisY": {"labelAngle": 270, "labelPadding": 3},
"legend": {"gradientLength": 126, "gradientThickness": 5, "offset": 5, "padding": 0, "labelFontSize": 7, "labelColor": "#444444", "labelFont": "DejaVu Sans", "labelOffset": 4, "gradientStrokeWidth": 0, "labelOverlap": false}
}
}
